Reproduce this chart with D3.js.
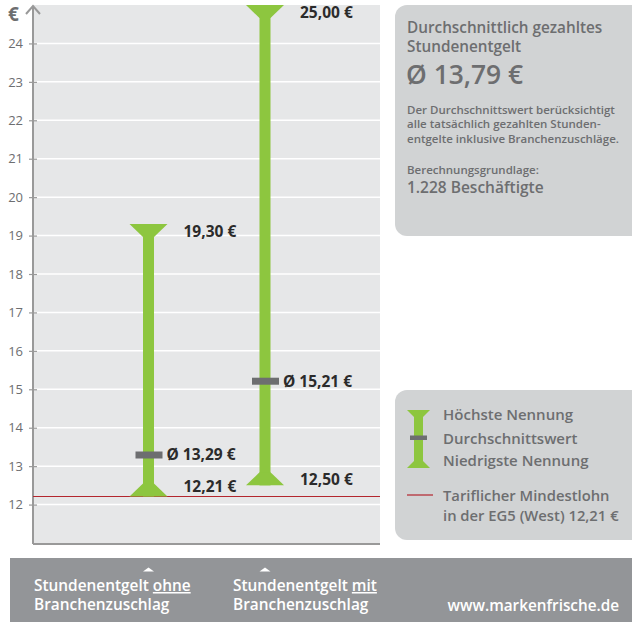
<!DOCTYPE html>
<html><head><meta charset="utf-8">
<script src="https://cdn.jsdelivr.net/npm/d3@7"></script>
<style>
html,body{margin:0;padding:0;background:#fff;}
svg{display:block;font-family:"Open Sans",Lato,sans-serif;}
</style></head>
<body>
<svg id="c" width="632" height="622"></svg>
<script>
const categories = ["Stundenentgelt ohne Branchenzuschlag", "Stundenentgelt mit Branchenzuschlag"];
const maxValues = [19.30, 25.00];
const meanValues = [13.29, 15.21];
const minValues = [12.21, 12.50];
const minWage = 12.21;
const yTicks = [12,13,14,15,16,17,18,19,20,21,22,23,24];
const overallMean = 13.79;
const employees = "1.228";
const captionWords = [["Stundenentgelt ", "ohne"], ["Stundenentgelt ", "mit"]];

const fmt = v => v.toFixed(2).replace(".", ",") + " €";
const svg = d3.select("#c");
const green = "#8dc63f", meanGray = "#6d6e70", red = "#b3262e", txtGray = "#6d6e70";

const plotL = 33, plotR = 380, plotT = 5, plotB = 543;
const y = d3.scaleLinear().domain([11, 25]).range([plotB, plotT]);
const x = d3.scalePoint().domain(categories).range([148.5, 265]);
const xCap = d3.scalePoint().domain(categories).range([34, 233]);

// panel
svg.append("rect").attr("x", plotL).attr("y", plotT).attr("width", plotR - plotL).attr("height", plotB - plotT).attr("fill", "#e6e7e8");
// grid
svg.append("g").selectAll("line").data(yTicks).join("line")
  .attr("x1", plotL).attr("x2", plotR).attr("y1", d => y(d)).attr("y2", d => y(d))
  .attr("stroke", "#fff").attr("stroke-width", 1.5);
// axis
const axis = d3.axisLeft(y).tickValues(yTicks).tickSize(4).tickPadding(6).tickFormat(d3.format("d"));
const ga = svg.append("g").attr("transform", `translate(${plotL},0)`).call(axis);
ga.select(".domain").remove();
ga.selectAll(".tick line").attr("stroke", "#999").attr("x2", 4).attr("x1", -4).attr("stroke-width", 1.2);
ga.selectAll(".tick text").attr("fill", "#6d6e70").attr("font-size", 13).attr("font-family", "'Open Sans', sans-serif");
svg.append("line").attr("x1", plotL).attr("x2", plotL).attr("y1", plotT + 1).attr("y2", plotB + 1).attr("stroke", "#999").attr("stroke-width", 2);
svg.append("line").attr("x1", plotL).attr("x2", plotR).attr("y1", plotB + 1).attr("y2", plotB + 1).attr("stroke", "#999").attr("stroke-width", 2);
svg.append("path").attr("d", `M${plotL - 7},${plotT + 9}L${plotL},${plotT + 1}L${plotL + 7},${plotT + 9}`).attr("fill", "none").attr("stroke", "#999").attr("stroke-width", 2);
svg.append("text").attr("x", 8).attr("y", 21).attr("font-size", 19).attr("font-weight", 700).attr("fill", "#6d6e70").text("€");

// min wage line
svg.append("line").attr("x1", plotL).attr("x2", plotR).attr("y1", y(minWage)).attr("y2", y(minWage)).attr("stroke", red).attr("stroke-width", 1.2);

// bars
const bw = 11, tw = 38, th = 13;
const data = categories.map((c, i) => ({c, i, max: maxValues[i], mean: meanValues[i], min: minValues[i]}));
const g = svg.append("g");
data.forEach(d => {
  const cx = x(d.c), yt = y(d.max), yb = y(d.min), ym = y(d.mean);
  g.append("rect").attr("x", cx - bw/2).attr("y", yt).attr("width", bw).attr("height", yb - yt).attr("fill", green);
  g.append("path").attr("d", `M${cx - tw/2},${yt}L${cx + tw/2},${yt}L${cx + bw/2},${yt + th}L${cx - bw/2},${yt + th}Z`).attr("fill", green);
  g.append("path").attr("d", `M${cx - tw/2},${yb}L${cx + tw/2},${yb}L${cx + bw/2},${yb - th}L${cx - bw/2},${yb - th}Z`).attr("fill", green);
  g.append("rect").attr("x", cx - 13).attr("y", ym - 3.5).attr("width", 27).attr("height", 7).attr("fill", meanGray);
  const lab = (tx, ty, s) => g.append("text").attr("x", tx).attr("y", ty).attr("font-size", 15.5).attr("font-weight", 700).attr("fill", "#2b2b2b").text(s);
  lab(cx + 35, yt + 12.5, fmt(d.max));
  lab(cx + 18, ym + 5.5, "Ø " + fmt(d.mean));
  lab(cx + 35, yb - (d.i === 0 ? 4.5 : 0), fmt(d.min));
});

// info box
svg.append("rect").attr("x", 395).attr("y", 5).attr("width", 250).attr("height", 231).attr("rx", 12).attr("fill", "#d1d3d4");
const t = (tx, ty, s, fs, fw, fill) => svg.append("text").attr("x", tx).attr("y", ty).attr("font-size", fs).attr("font-weight", fw).attr("fill", fill || txtGray).text(s);
t(407, 33, "Durchschnittlich gezahltes", 15.3, 600);
t(407, 52, "Stundenentgelt", 15.3, 600);
t(406, 83.5, "Ø " + fmt(overallMean), 26.4, 600);
t(407, 114, "Der Durchschnittswert berücksichtigt", 11.5, 600);
t(407, 128.3, "alle tatsächlich gezahlten Stunden-", 11.5, 600);
t(407, 142.7, "entgelte inklusive Branchenzuschläge.", 11.5, 600);
t(407, 174, "Berechnungsgrundlage:", 11.5, 600);
t(407, 193.3, employees + " Beschäftigte", 15.5, 600);

// legend box
svg.append("rect").attr("x", 395).attr("y", 390).attr("width", 250).attr("height", 150).attr("rx", 12).attr("fill", "#d1d3d4");
const lcx = 418.5, lt = 410, lb = 468;
svg.append("rect").attr("x", lcx - 4.5).attr("y", lt).attr("width", 9).attr("height", lb - lt).attr("fill", green);
svg.append("path").attr("d", `M${lcx - 11.5},${lt}L${lcx + 11.5},${lt}L${lcx + 4.5},${lt + 7}L${lcx - 4.5},${lt + 7}Z`).attr("fill", green);
svg.append("path").attr("d", `M${lcx - 11.5},${lb}L${lcx + 11.5},${lb}L${lcx + 4.5},${lb - 7}L${lcx - 4.5},${lb - 7}Z`).attr("fill", green);
svg.append("rect").attr("x", lcx - 8.5).attr("y", 435.5).attr("width", 17).attr("height", 4.5).attr("fill", meanGray);
t(443, 420, "Höchste Nennung", 15, 600);
t(443, 443.5, "Durchschnittswert", 15, 600);
t(443, 465.5, "Niedrigste Nennung", 15, 600);
svg.append("line").attr("x1", 407).attr("x2", 433).attr("y1", 495).attr("y2", 495).attr("stroke", red).attr("stroke-width", 1.2);
t(443, 500.5, "Tariflicher Mindestlohn", 14.8, 600);
t(443, 521, "in der EG5 (West) " + fmt(minWage), 14.8, 600);

// bottom band
svg.append("rect").attr("x", 10).attr("y", 558).attr("width", 622).attr("height", 64).attr("fill", "#939598");
data.forEach(d => {
  const cx = x(d.c);
  svg.append("path").attr("d", `M${cx - 5.5},${571.5}L${cx + 5.5},${571.5}L${cx},${567.5}Z`).attr("fill", "#fff");
  const lx = xCap(d.c);
  const tx = svg.append("text").attr("x", lx).attr("y", 591).attr("font-size", 15.4).attr("font-weight", 600).attr("fill", "#fff");
  tx.append("tspan").text(captionWords[d.i][0]);
  tx.append("tspan").style("text-decoration", "underline").text(captionWords[d.i][1]);
  svg.append("text").attr("x", lx).attr("y", 610).attr("font-size", 15.4).attr("font-weight", 600).attr("fill", "#fff").text("Branchenzuschlag");
});
svg.append("text").attr("x", 619).attr("y", 611).attr("text-anchor", "end").attr("font-size", 15.3).attr("font-weight", 600).attr("fill", "#fff").text("www.markenfrische.de");
</script>
</body></html>
